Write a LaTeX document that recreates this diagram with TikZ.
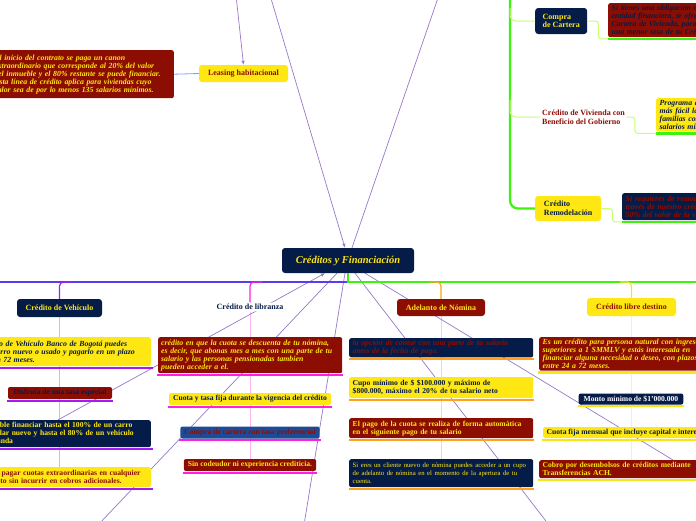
\documentclass[tikz,border=0pt]{standalone}
\usepackage{fontspec}
\setmainfont{Liberation Serif}
\usepackage{tikz}
\usetikzlibrary{positioning,arrows.meta,backgrounds}
\definecolor{navy}{HTML}{061C48}
\definecolor{wine}{HTML}{8C0D02}
\definecolor{sun}{HTML}{FFE714}
\definecolor{cobalt}{HTML}{1F4B96}
\definecolor{relc}{HTML}{9877C8}
\definecolor{busw}{HTML}{5A3CF0}
\definecolor{vio}{HTML}{A41CF5}
\definecolor{viol}{HTML}{DDB0FF}
\definecolor{mag}{HTML}{FF1EE6}
\definecolor{magl}{HTML}{FFB5F5}
\definecolor{ora}{HTML}{FFA11A}
\definecolor{oral}{HTML}{FFD59A}
\definecolor{yel}{HTML}{F5E617}
\definecolor{yell}{HTML}{FFF3A0}
\definecolor{grn}{HTML}{3DF20C}
\definecolor{grnl}{HTML}{C6FF70}
\definecolor{sky}{HTML}{7D9BFF}
\newcommand\fnote{\fontsize{7.6}{8}\selectfont}
\newcommand\fit{\fontsize{7.8}{8}\selectfont\itshape}
\newcommand\fplain{\fontsize{6.7}{8}\selectfont\mdseries}
\tikzset{
  topic/.style={rounded corners=3pt, inner xsep=4pt, inner ysep=2.5pt, font=\fontsize{8}{8.6}\selectfont\bfseries, align=left},
  note/.style={rounded corners=2pt, inner xsep=3.5pt, inner ysep=2pt, font=\fnote\bfseries, align=left},
  rel/.style={draw=relc, line width=0.7pt},
  tip/.style={-{Latex[length=4pt,width=3.5pt]}},
  ul/.style={line width=2.3pt},
  tie/.style={line width=1.2pt, rounded corners=4pt}
}
\begin{document}
\begin{tikzpicture}[x=1pt,y=-1pt]
\useasboundingbox (0,0) rectangle (696,520);
\clip (0,0) rectangle (696,520);

% centre and first level
\node[topic, fill=navy, text=sun, font=\fontsize{10.5}{12}\selectfont\bfseries\itshape, minimum width=132pt, minimum height=25pt, align=center] (ctr) at (348,260.5) {Créditos y Financiación};
\node[topic, fill=sun, text=wine, minimum width=89pt, minimum height=17pt, align=center] (leas) at (243.5,73.5) {Leasing habitacional};
\node[note, anchor=north east, fill=wine, text=sun, font=\bfseries\fit, text width=176pt, minimum height=48pt] (leasd) at (174,50) {Al inicio del contrato se paga un canon\\ extraordinario que corresponde al 20\% del valor\\ del inmueble y el 80\% restante se puede financiar.\\ Esta línea de crédito aplica para viviendas cuyo\\ valor sea de por lo menos 135 salarios mínimos.};
\node[topic, fill=navy, text=sun, minimum width=85pt, minimum height=18pt, align=center] (veh) at (59.5,308) {Crédito de Vehículo};
\node[topic, fill=white, text=navy, inner sep=1.5pt, align=center] (lib) at (250,307) {Crédito de libranza};
\node[topic, fill=wine, text=sun, minimum width=88pt, minimum height=17pt, align=center] (adel) at (441,307.5) {Adelanto de Nómina};
\node[topic, fill=sun, text=wine, minimum width=89pt, minimum height=18pt, align=center] (libre) at (631.5,307) {Crédito libre destino};

% vivienda branch, top right
\node[topic, fill=navy, text=sun, anchor=west, minimum width=52pt, minimum height=26pt] (comp) at (535,21) {Compra\\de Cartera};
\node[topic, text=wine, anchor=west, inner xsep=2pt] (viv) at (540,117) {Crédito de Vivienda con\\Beneficio del Gobierno};
\node[topic, fill=sun, text=navy, anchor=west, minimum width=66pt, minimum height=25pt] (rem) at (535,208.5) {Crédito\\Remodelación};
\foreach \nm/\xx/\yy/\hh/\fl/\tc/\txt in {
  compd/608/3/34/wine/navy/{Si tienes una obligación con otra\\ entidad financiera, te ofrecemos la Compra de\\ Cartera de Vivienda, para que obtengas\\ una menor tasa de tu Crédito.},
  vivd/656/98/33/sun/navy/{Programa del Gobierno que hace\\ más fácil la compra de vivienda a\\ familias con ingresos de hasta 4\\ salarios mínimos.},
  remd/622/193/27/navy/wine/{Si requieres de remodelar tu vivienda, a\\ través de nuestro crédito financiamos hasta el\\ 50\% del valor de la vivienda.}}{
  \node[note, anchor=north west, fill=\fl, text=\tc, font=\bfseries\fit, text width=177pt, minimum height=\hh pt] (\nm) at (\xx,\yy) {\txt};
  \draw[ul, grn] ([yshift=-1.5pt]\nm.south west) -- ([yshift=-1.5pt]\nm.south east);
}

% vehiculo column
\foreach \nm/\xx/\yy/\hh/\fl/\tc/\sh/\txt in {
  vh1/-40/337/29/sun/navy/\fit/{Con Crédito de Vehículo Banco de Bogotá puedes\\ comprar carro nuevo o usado y pagarlo en un plazo\\ de hasta en 72 meses.},
  vh3/-27/420/27/navy/sun/{}/{Es posible financiar hasta el 100\% de un carro\\ particular nuevo y hasta el 80\% de un vehículo\\ de segunda},
  vh4/-27/467/20/sun/wine/{}/{Puedes pagar cuotas extraordinarias en cualquier\\ momento sin incurrir en cobros adicionales.}}{
  \pgfmathsetmacro{\ww}{151-\xx-7}
  \node[note, anchor=north east, fill=\fl, text=\tc, text width=\ww pt, minimum height=\hh pt] (\nm) at (151,\yy) {\sh\txt};
  \draw[ul, vio] ([yshift=-1.5pt]\nm.south west) -- ([xshift=2pt,yshift=-1.5pt]\nm.south east);
}
\node[note, fill=wine, text=navy, minimum width=104pt, minimum height=12pt, align=center] (vh2) at (60,393) {Disfruta de una tasa especial};
\draw[ul, vio] ([xshift=-1pt,yshift=-1.5pt]vh2.south west) -- ([xshift=1pt,yshift=-1.5pt]vh2.south east);

% libranza column
\node[note, anchor=north west, fill=wine, text=sun, font=\bfseries\fit, inner xsep=3pt, text width=178pt, minimum height=36pt] (lb1) at (158,337) {crédito en que la cuota se descuenta de tu nómina,\\ es decir, que abonas mes a mes con una parte de tu\\ salario y las personas pensionadas tambien\\ pueden acceder a el.};
\foreach \nm/\yy/\fl/\tc/\txt in {
  lb2/399/sun/navy/{Cuota y tasa fija durante la vigencia del crédito},
  lb3/432.5/cobalt/wine/{Compra de cartera con tasa preferencial},
  lb4/465/wine/sun/{Sin codeudor ni experiencia crediticia.}}{
  \node[note, fill=\fl, text=\tc, minimum height=12pt, inner xsep=4pt] (\nm) at (250,\yy) {\txt};
}
\foreach \nm in {lb1,lb2,lb3,lb4}
  \draw[ul, mag] ([xshift=-1pt,yshift=-1.5pt]\nm.south west) -- ([xshift=1pt,yshift=-1.5pt]\nm.south east);

% adelanto column
\foreach \nm/\yy/\hh/\fl/\tc/\sh/\txt in {
  an1/338/19/navy/wine/\fit/{la opción de contar con una parte de tu salario\\ antes de la fecha de pago.},
  an2/377/21/sun/navy/{}/{Cupo mínimo de \$ \$100.000 y máximo de\\ \$800.000, máximo el 20\% de tu salario neto},
  an3/418/20/wine/sun/{}/{El pago de la cuota se realiza de forma automática\\ en el siguiente pago de tu salario},
  an4/459/28/navy/sun/\fplain/{Si eres un cliente nuevo de nómina puedes acceder a un cupo\\ de adelanto de nómina en el momento de la apertura de tu\\ cuenta.}}{
  \node[note, anchor=north west, fill=\fl, text=\tc, text width=177pt, minimum height=\hh pt] (\nm) at (349,\yy) {\sh\txt};
  \draw[ul, ora] ([yshift=-1.5pt]\nm.south west) -- ([xshift=1pt,yshift=-1.5pt]\nm.south east);
}

% libre destino column
\node[note, anchor=north west, fill=wine, text=sun, font=\bfseries\fit, text width=177pt, minimum height=31pt] (ld1) at (539,337) {Es un crédito para persona natural con ingresos\\ superiores a 1 SMMLV y estás interesada en\\ financiar alguna necesidad o deseo, con plazos\\ entre 24 a 72 meses.};
\node[note, fill=navy, text=white, minimum height=11pt, inner xsep=5pt] (ld2) at (631,399) {Monto mínimo de \$1'000.000};
\node[note, anchor=west, fill=sun, text=navy, minimum height=11pt] (ld3) at (543,432.5) {Cuota fija mensual que incluye capital e intereses};
\node[note, anchor=north west, fill=wine, text=sun, text width=165pt, minimum height=18pt] (ld4) at (539,460) {Cobro por desembolsos de créditos mediante\\ Transferencias ACH.};
\foreach \nm in {ld1,ld2,ld3,ld4}
  \draw[ul, yel] ([xshift=-1pt,yshift=-1.5pt]\nm.south west) -- ([xshift=1pt,yshift=-1.5pt]\nm.south east);

% tree lines
\coordinate (hub) at (348,282);
\coordinate (wend) at (-5,282);
\coordinate (eend) at (701,282);
\draw[busw, line width=1.3pt] (hub) -- (wend);
\draw[grn, line width=1.3pt] (ctr.south) -- (hub) -- (eend);
\coordinate (vehb) at (72,282);
\coordinate (libb) at (262,282);
\coordinate (adb) at (429,282);
\coordinate (lbb) at (620,282);
\draw[tie, vio] (vehb) -| (veh.north);
\draw[tie, mag] (libb) -| (lib.north);
\draw[tie, ora] (adb) -| (adel.north);
\draw[tie, yel] (lbb) -| (libre.north);
\draw[sky, line width=0.8pt] (leas.west) -- (leasd.east);

\coordinate (gtop) at (510,-5);
\coordinate (gc) at (510,8);
\coordinate (gv) at (510,100);
\draw[grn, line width=2.2pt, rounded corners=8pt] (gtop) -- (gtop |- rem.west) -- (rem.west);
\draw[grnl, line width=1pt, rounded corners=6pt] (gc) |- (comp.west);
\draw[grnl, line width=1pt, rounded corners=6pt] (gv) |- (viv.west);
\draw[grnl, line width=1pt, rounded corners=3pt] (comp.east) -- ++(11,0) |- ([yshift=-1.5pt]compd.south west);
\draw[grnl, line width=1pt, rounded corners=3pt] (viv.east) -- ++(8,0) |- ([yshift=-1.5pt]vivd.south west);
\draw[grnl, line width=1pt, rounded corners=3pt] (rem.east) -- ++(11,0) |- ([yshift=-1.5pt]remd.south west);

% relations, behind the boxes
\begin{pgfonlayer}{background}
\draw[viol, line width=1pt] (veh.south) -- (veh.south |- vh4.north);
\draw[magl, line width=1pt] (lib.south) -- (lib.south |- lb4.north);
\draw[oral, line width=1pt] (adel.south) -- (adel.south |- an4.north);
\draw[yell, line width=1pt] (libre.south) -- (libre.south |- ld4.north);
\coordinate (t1) at (236,-5);
\coordinate (t2) at (270,-5);
\coordinate (t3) at (439,-5);
\coordinate (b1) at (98,525);
\coordinate (b2) at (304,525);
\coordinate (b3) at (549,525);
\draw[rel, tip] (t1) -- (leas.north);
\draw[rel, tip] (t2) -- ([xshift=-3pt]ctr.north);
\draw[rel] (t3) -- ([xshift=4pt]ctr.north);
\draw[rel, tip] ([xshift=-4pt]vh3.north) -- ([xshift=-23pt]ctr.south);
\draw[rel] ([xshift=-11pt]ctr.south) -- (b1);
\draw[rel] ([xshift=-3pt]ctr.south) -- (b2);
\draw[rel] ([xshift=7pt]ctr.south) -- (b3);
\draw[rel] ([xshift=17pt]ctr.south) -- ([xshift=134pt]ld4.north west);
\end{pgfonlayer}
\end{tikzpicture}
\end{document}
